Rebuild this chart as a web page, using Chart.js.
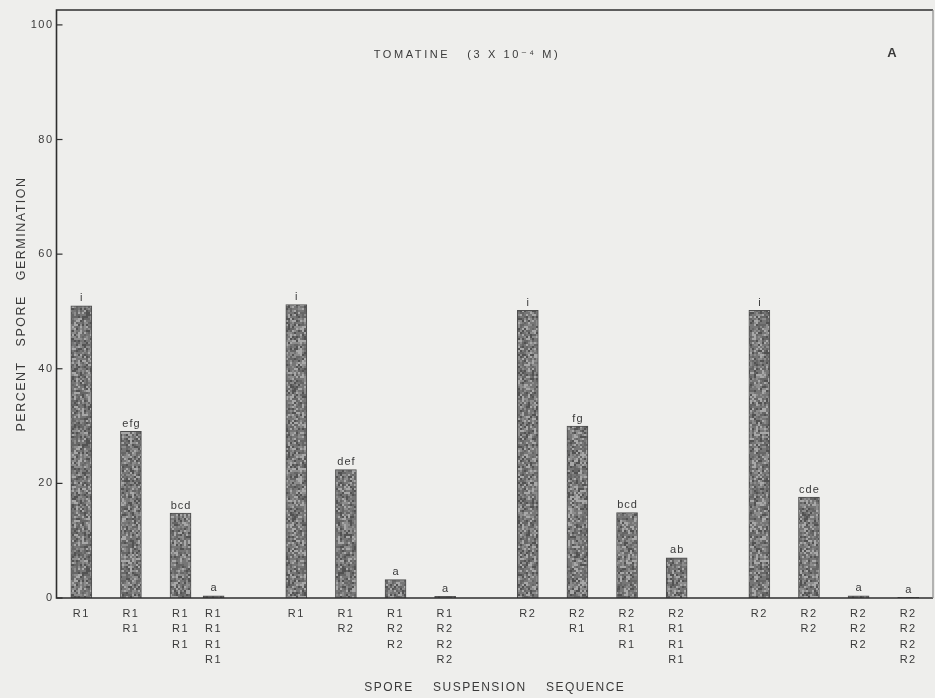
<!DOCTYPE html>
<html>
<head>
<meta charset="utf-8">
<script src="https://cdn.jsdelivr.net/npm/chart.js@4.4.1/dist/chart.umd.min.js"></script>
<style>
  html,body{margin:0;padding:0;background:#eeeeec;}
  #wrap{width:935px;height:698px;}
</style>
</head>
<body>
<div id="wrap"><canvas id="c" width="935" height="698"></canvas></div>
<script>
// ---- data ----
const categories = [
  ['R1'], ['R1','R1'], ['R1','R1','R1'], ['R1','R1','R1','R1'],
  ['R1'], ['R1','R2'], ['R1','R2','R2'], ['R1','R2','R2','R2'],
  ['R2'], ['R2','R1'], ['R2','R1','R1'], ['R2','R1','R1','R1'],
  ['R2'], ['R2','R2'], ['R2','R2','R2'], ['R2','R2','R2','R2']
];
const germination = [51.0, 29.1, 14.8, 0.4, 51.2, 22.4, 3.2, 0.3, 50.2, 30.0, 14.9, 7.0, 50.2, 17.6, 0.4, 0.1];
const letters = ['i','efg','bcd','a','i','def','a','a','i','fg','bcd','ab','i','cde','a','a'];
const yTicks = [0, 20, 40, 60, 80, 100];
const chartTitle = 'TOMATINE   (3 X 10\u207B\u2074 M)';
const panelLetter = 'A';
const yTitle = 'PERCENT   SPORE   GERMINATION';
const xTitle = 'SPORE    SUSPENSION    SEQUENCE';

// ---- layout: slot index of each bar on a fine category grid ----
const slotOf = [0,3,6,8, 13,16,19,22, 27,30,33,36, 41,44,47,50];
const leadSlots = 1, totalSlots = 53;
const labels = new Array(totalSlots).fill('');
const values = new Array(totalSlots).fill(null);
const barSlot = [];
slotOf.forEach((s, i) => {
  labels[s + leadSlots] = categories[i];
  values[s + leadSlots] = germination[i];
  barSlot.push(s + leadSlots);
});

// mottled texture (deterministic hash, purely a fill style)
function hash(x, y) {
  let h = (Math.imul(x + 11, 374761393) + Math.imul(y + 5, 668265263)) >>> 0;
  h = Math.imul(h ^ (h >>> 13), 1274126177) >>> 0;
  h = (h ^ (h >>> 16)) >>> 0;
  return (h & 1023) / 1023;
}
function makeStipple() {
  const N = 128, B = 2;
  const c = document.createElement('canvas');
  c.width = N; c.height = N;
  const g = c.getContext('2d');
  for (let y = 0; y < N; y += B) for (let x = 0; x < N; x += B) {
    const r = hash(x, y);
    let v = 118;
    if (r > 0.82) v = 168; else if (r > 0.62) v = 140; else if (r < 0.14) v = 82; else if (r < 0.34) v = 102;
    g.fillStyle = 'rgb(' + v + ',' + v + ',' + v + ')';
    g.fillRect(x, y, B, B);
  }
  return g.createPattern(c, 'repeat');
}

const FONT = "'Liberation Sans', 'DejaVu Sans', sans-serif";
const INK = '#3a3a3a';

const decor = {
  id: 'decor',
  beforeDraw(chart) {
    const ctx = chart.ctx;
    ctx.save();
    ctx.fillStyle = '#eeeeec';
    ctx.fillRect(0, 0, chart.width, chart.height);
    ctx.restore();
    ctx.letterSpacing = '1.5px';
  },
  afterDatasetsDraw(chart) {
    const ctx = chart.ctx;
    const a = chart.chartArea;
    const ys = chart.scales.y;
    ctx.save();
    // frame
    ctx.strokeStyle = '#2e2e2e';
    ctx.lineWidth = 1.6;
    ctx.beginPath();
    ctx.moveTo(a.right, a.top); ctx.lineTo(a.left, a.top);
    ctx.lineTo(a.left, a.bottom); ctx.lineTo(a.right, a.bottom);
    ctx.stroke();
    ctx.strokeStyle = '#8a8a8a';
    ctx.lineWidth = 1.2;
    ctx.beginPath(); ctx.moveTo(a.right, a.top); ctx.lineTo(a.right, a.bottom); ctx.stroke();
    // inner y ticks
    ctx.strokeStyle = '#2e2e2e';
    ctx.lineWidth = 1.2;
    yTicks.forEach(t => {
      const py = ys.getPixelForValue(t);
      ctx.beginPath(); ctx.moveTo(a.left, py); ctx.lineTo(a.left + 6, py); ctx.stroke();
    });
    // letters above bars
    const meta = chart.getDatasetMeta(0);
    ctx.fillStyle = INK;
    ctx.font = '11px ' + FONT;
    ctx.letterSpacing = '1px';
    ctx.textAlign = 'center';
    ctx.textBaseline = 'bottom';
    barSlot.forEach((s, i) => {
      const el = meta.data[s];
      if (el) ctx.fillText(letters[i], el.x + 0.5, el.y - 2);
    });
    // title and panel letter
    ctx.font = '11px ' + FONT;
    ctx.letterSpacing = '2.6px';
    ctx.textBaseline = 'middle';
    ctx.fillText(chartTitle, 467, 55);
    ctx.font = 'bold 13px ' + FONT;
    ctx.letterSpacing = '0px';
    ctx.fillText(panelLetter, 892, 53);
    ctx.restore();
  }
};

new Chart(document.getElementById('c'), {
  type: 'bar',
  data: {
    labels: labels,
    datasets: [{
      data: values,
      backgroundColor: makeStipple(),
      borderColor: '#4e4e4e',
      borderWidth: { left: 1, right: 1, top: 1, bottom: 0 },
      barThickness: 21,
      skipNull: true
    }]
  },
  options: {
    responsive: false,
    animation: false,
    devicePixelRatio: 1,
    layout: { padding: { top: 10, right: 2, left: 0, bottom: 0 } },
    plugins: { legend: { display: false }, tooltip: { enabled: false }, title: { display: false } },
    scales: {
      x: {
        type: 'category',
        offset: true,
        grid: { display: false, drawTicks: false },
        border: { display: false },
        ticks: {
          autoSkip: false, maxRotation: 0, minRotation: 0, padding: 8,
          color: INK, font: { family: FONT, size: 11, lineHeight: 1.4 }
        },
        title: {
          display: true, text: xTitle, color: INK,
          font: { family: FONT, size: 12 }, padding: { top: 0, bottom: 3 }
        },
        afterFit: s => { s.height = 100; }
      },
      y: {
        min: 0, max: 102.6,
        grid: { display: false, drawTicks: false },
        border: { display: false },
        afterBuildTicks: s => { s.ticks = yTicks.map(v => ({ value: v })); },
        ticks: { padding: 3, color: INK, font: { family: FONT, size: 11 } },
        title: {
          display: true, text: yTitle, color: INK,
          font: { family: FONT, size: 12.5 }, padding: { top: 14.5, bottom: 0 }
        },
        afterFit: s => { s.width = 56.5; }
      }
    }
  },
  plugins: [decor]
});
</script>
</body>
</html>
